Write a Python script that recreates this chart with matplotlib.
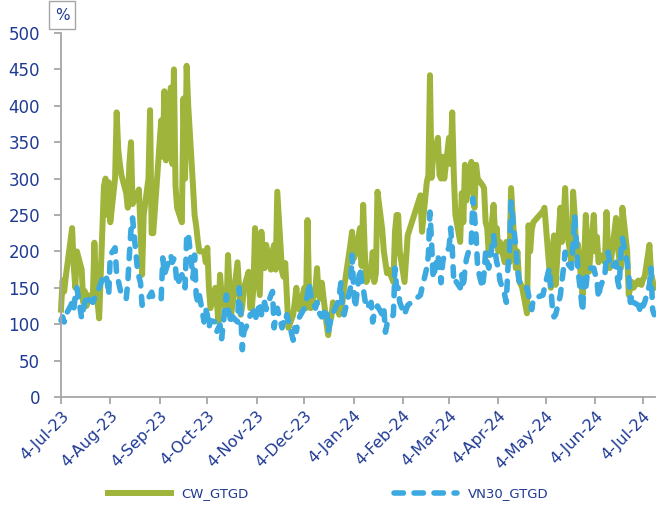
import matplotlib
matplotlib.use("Agg")
import matplotlib.pyplot as plt
import matplotlib.dates as mdates
import pandas as pd

# trading days, HOSE closed on these
holidays = ["2023-09-01", "2023-09-04", "2024-01-01",
            "2024-02-08", "2024-02-09", "2024-02-12", "2024-02-13", "2024-02-14",
            "2024-04-18", "2024-04-29", "2024-04-30", "2024-05-01"]
start, end = "2023-07-04", "2024-07-11"

cw_values = [
    120, 160, 145, 165, 215, 232, 180, 150, 200, 175, 130, 145, 125, 140, 135, 212, 150, 130, 108, 290,  # jul
    300, 250, 295, 240, 300, 391, 340, 320, 305, 280, 260, 320, 350, 265, 280, 285, 230, 168, 250, 300, 394, 225, 225,  # aug
    380, 330, 420, 325, 425, 320, 450, 290, 260, 240, 410, 300, 455, 400, 290, 250, 235, 215, 200,  # sep
    200, 185, 205, 150, 122, 150, 130, 103, 168, 140, 117, 195, 150, 113, 130, 185, 150, 113, 125, 150, 172, 122,  # oct
    122, 150, 232, 140, 227, 190, 177, 209, 175, 200, 209, 175, 282, 172, 165, 184, 140, 95, 113, 130, 150, 122,  # nov
    120, 150, 122, 243, 140, 122, 150, 177, 140, 135, 157, 100, 85, 103, 110, 130, 120, 113, 125, 130, 150,  # dec
    210, 227, 190, 195, 232, 180, 264, 200, 158, 175, 199, 158, 170, 282, 230, 200, 185, 170, 175, 158, 227, 250,  # jan
    250, 200, 158, 190, 222, 277, 227, 295, 305, 442, 301, 330, 356, 305, 300, 330,  # feb
    300, 356, 320, 391, 305, 250, 213, 280, 240, 319, 270, 323, 290, 260, 319, 300, 291, 287, 240, 232, 195,  # mar
    264, 220, 232, 200, 213, 185, 213, 190, 185, 287, 177, 200, 160, 150, 115, 236, 200, 230, 240,  # apr
    255, 260, 177, 150, 200, 222, 154, 260, 213, 240, 287, 230, 185, 282, 250, 195, 210, 140, 190, 250, 200, 172,  # may
    250, 200, 220, 185, 195, 185, 254, 200, 177, 190, 246, 210, 190, 177, 260, 200, 140, 150, 158, 150,  # jun
    160, 155, 154, 162, 165, 209, 170, 160, 150,  # jul
]

vn30_values = [
    105, 110, 103, 113, 125, 130, 120, 140, 150, 108, 120, 130, 140, 135, 130, 135, 140, 145, 150, 168,
    168, 160, 140, 195, 205, 168, 160, 150, 140, 135, 157, 195, 230, 246, 177, 165, 157, 126, 130, 136, 140, 144, 135,
    135, 191, 168, 175, 195, 185, 190, 177, 154, 168, 160, 150, 218, 225, 163, 195, 140, 130, 140,
    103, 120, 113, 95, 105, 103, 90, 95, 99, 80, 140, 120, 113, 100, 110, 103, 150, 120, 65, 90, 103, 113,
    113, 118, 105, 130, 113, 125, 130, 120, 140, 145, 95, 110, 122, 95, 103, 100, 113, 105, 78, 95, 90, 105,
    110, 122, 130, 140, 157, 140, 122, 130, 118, 113, 110, 122, 89, 100, 108, 115, 130, 140, 157, 120, 113,
    150, 195, 150, 122, 177, 160, 150, 135, 122, 130, 103, 115, 122, 125, 113, 122, 89, 100, 103, 113, 177, 150,
    150, 130, 113, 120, 126, 140, 150, 177, 195, 254, 213, 163, 195, 177, 157, 185,
    195, 205, 232, 205, 157, 160, 150, 168, 150, 177, 190, 213, 273, 250, 222, 177, 150, 170, 199, 185, 177,
    222, 199, 185, 177, 160, 140, 130, 177, 199, 268, 205, 177, 160, 150, 150, 140, 130, 120, 135,
    140, 150, 177, 150, 122, 110, 113, 140, 160, 177, 199, 185, 177, 213, 250, 213, 177, 117, 163, 150, 170, 177,
    177, 168, 160, 136, 150, 168, 195, 199, 185, 177, 185, 160, 150, 200, 218, 185, 168, 130, 140, 130,
    126, 120, 130, 125, 130, 154, 177, 120, 113,
]

series_names = ["CW_GTGD", "VN30_GTGD"]
y_ticks = list(range(0, 501, 50))

green = "#9FB43A"
blue = "#3CA9E0"
navy = "#1F3A93"
grey = "#A6A6A6"

days = pd.bdate_range(start, end)
days = days[~days.isin(pd.to_datetime(holidays))]

fig = plt.figure(figsize=(6.56, 5.08), dpi=100)
ax = fig.add_axes([61 / 656, 111 / 508, 594 / 656, 364 / 508])

ax.plot(days, cw_values, color=green, lw=4.3, solid_joinstyle="round",
        label=series_names[0], clip_on=False)
ax.plot(days, vn30_values, color=blue, lw=4.0, dashes=(1.7, 1.9),
        dash_capstyle="round", label=series_names[1], clip_on=False)

ax.set_ylim(0, 500)
ax.set_yticks(y_ticks)
ax.set_xlim(pd.Timestamp(start), pd.Timestamp(end) + pd.Timedelta(hours=12))
ax.xaxis.set_major_locator(mdates.MonthLocator(bymonthday=4))
ax.xaxis.set_major_formatter(plt.FuncFormatter(
    lambda v, pos: "%d-%s" % (mdates.num2date(v).day, mdates.num2date(v).strftime("%b-%y"))))

for s in ["top", "right"]:
    ax.spines[s].set_visible(False)
for s in ["left", "bottom"]:
    ax.spines[s].set_color(grey)
    ax.spines[s].set_linewidth(1.3)

ax.tick_params(axis="y", colors=grey, labelcolor=navy, labelsize=12, length=5, width=1.3, pad=10)
ax.tick_params(axis="x", colors=grey, labelcolor=navy, labelsize=11.5, length=5, width=1.3, pad=3)
for lab in ax.get_xticklabels():
    lab.set_rotation(45)
    lab.set_ha("right")
    lab.set_rotation_mode("anchor")

fig.text(62 / 656, 1 - 15 / 508, "%", color=navy, fontsize=11, ha="center", va="center",
         bbox=dict(boxstyle="square,pad=0.4", fc="white", ec=grey, lw=1))

fig.legend(loc="center", bbox_to_anchor=(0.5, 1 - 494 / 508), ncol=2, frameon=False,
           handlelength=4.8, columnspacing=11, fontsize=9.5, labelcolor=navy)

fig.savefig("out.png", dpi=100)
